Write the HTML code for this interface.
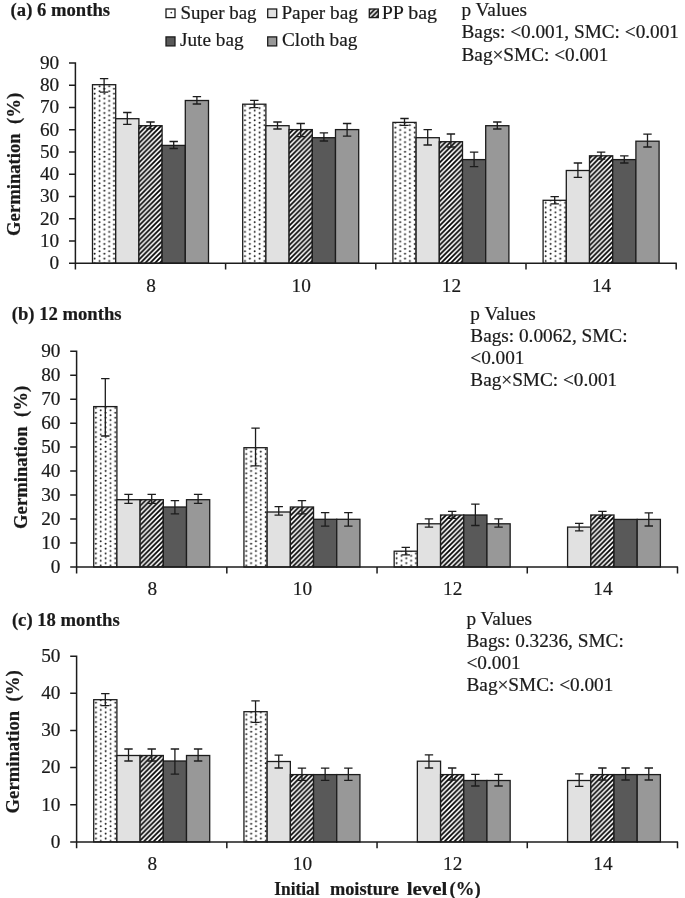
<!DOCTYPE html>
<html><head><meta charset="utf-8"><title>Germination</title>
<style>
html,body{margin:0;padding:0;background:#fff;}
body{width:685px;height:898px;overflow:hidden;}
svg{display:block;filter:blur(0.35px);}
text{font-family:"Liberation Serif",serif;font-size:19.25px;fill:#1a1a1a;stroke:#1a1a1a;stroke-width:0.2px;}
.b{font-weight:bold;font-size:18.67px;}
</style></head><body>
<svg width="685" height="898" viewBox="0 0 685 898">
<defs>
<pattern id="dots0" patternUnits="userSpaceOnUse" width="9.7" height="4.85" x="6.71" y="0.75">
<rect width="9.7" height="4.85" fill="#fff"/>
<circle cx="0.65" cy="0.65" r="0.95" fill="#1a1a1a"/>
<circle cx="5.5" cy="3.07" r="0.95" fill="#1a1a1a"/>
<circle cx="10.35" cy="0.65" r="0.95" fill="#1a1a1a"/>
<circle cx="0.65" cy="5.5" r="0.95" fill="#1a1a1a"/>
<circle cx="10.35" cy="5.5" r="0.95" fill="#1a1a1a"/>
</pattern>
<pattern id="dots1" patternUnits="userSpaceOnUse" width="9.7" height="4.85" x="7.95" y="4.65">
<rect width="9.7" height="4.85" fill="#fff"/>
<circle cx="0.65" cy="0.65" r="0.95" fill="#1a1a1a"/>
<circle cx="5.5" cy="3.07" r="0.95" fill="#1a1a1a"/>
<circle cx="10.35" cy="0.65" r="0.95" fill="#1a1a1a"/>
<circle cx="0.65" cy="5.5" r="0.95" fill="#1a1a1a"/>
<circle cx="10.35" cy="5.5" r="0.95" fill="#1a1a1a"/>
</pattern>
<pattern id="dots2" patternUnits="userSpaceOnUse" width="9.7" height="4.85" x="8.02" y="3.5">
<rect width="9.7" height="4.85" fill="#fff"/>
<circle cx="0.65" cy="0.65" r="0.95" fill="#1a1a1a"/>
<circle cx="5.5" cy="3.07" r="0.95" fill="#1a1a1a"/>
<circle cx="10.35" cy="0.65" r="0.95" fill="#1a1a1a"/>
<circle cx="0.65" cy="5.5" r="0.95" fill="#1a1a1a"/>
<circle cx="10.35" cy="5.5" r="0.95" fill="#1a1a1a"/>
</pattern>
<pattern id="hatch" patternUnits="userSpaceOnUse" width="4.85" height="4.85" x="0.88" y="0">
<rect width="4.85" height="4.85" fill="#fff"/>
<path d="M-1.2125,1.2125 L1.2125,-1.2125 M0,4.85 L4.85,0 M3.6375,6.0625 L6.0625,3.6375" stroke="#000" stroke-width="1.72"/>
</pattern>
</defs>
<rect width="685" height="898" fill="#fff"/>

<g>
<text class="b" x="10.6" y="16.4">(a) 6 months</text>
<rect x="92.5" y="84.7" width="23.2" height="178.5" fill="url(#dots0)" stroke="#1c1c1c" stroke-width="1.3"/>
<rect x="115.7" y="118.7" width="23.2" height="144.5" fill="#e1e1e1" stroke="#1c1c1c" stroke-width="1.3"/>
<rect x="138.9" y="125.7" width="23.2" height="137.5" fill="url(#hatch)" stroke="#1c1c1c" stroke-width="1.3"/>
<rect x="162.1" y="145.4" width="23.2" height="117.8" fill="#595959" stroke="#1c1c1c" stroke-width="1.3"/>
<rect x="185.3" y="100.5" width="23.2" height="162.7" fill="#989898" stroke="#1c1c1c" stroke-width="1.3"/>
<path d="M104.1,78.6 V92.2 M99.9,78.6 H108.3 M99.9,92.2 H108.3" stroke="#1c1c1c" stroke-width="1.3" fill="none"/>
<path d="M127.3,112.5 V124.4 M123.1,112.5 H131.5 M123.1,124.4 H131.5" stroke="#1c1c1c" stroke-width="1.3" fill="none"/>
<path d="M150.5,122 V128.8 M146.3,122 H154.7 M146.3,128.8 H154.7" stroke="#1c1c1c" stroke-width="1.3" fill="none"/>
<path d="M173.7,141.5 V148.5 M169.5,141.5 H177.9 M169.5,148.5 H177.9" stroke="#1c1c1c" stroke-width="1.3" fill="none"/>
<path d="M196.9,96.6 V104 M192.7,96.6 H201.1 M192.7,104 H201.1" stroke="#1c1c1c" stroke-width="1.3" fill="none"/>
<rect x="242.7" y="104.2" width="23.2" height="159" fill="url(#dots0)" stroke="#1c1c1c" stroke-width="1.3"/>
<rect x="265.9" y="125.7" width="23.2" height="137.5" fill="#e1e1e1" stroke="#1c1c1c" stroke-width="1.3"/>
<rect x="289.1" y="129.6" width="23.2" height="133.6" fill="url(#hatch)" stroke="#1c1c1c" stroke-width="1.3"/>
<rect x="312.3" y="137.7" width="23.2" height="125.5" fill="#595959" stroke="#1c1c1c" stroke-width="1.3"/>
<rect x="335.5" y="129.6" width="23.2" height="133.6" fill="#989898" stroke="#1c1c1c" stroke-width="1.3"/>
<path d="M254.3,100.3 V107.7 M250.1,100.3 H258.5 M250.1,107.7 H258.5" stroke="#1c1c1c" stroke-width="1.3" fill="none"/>
<path d="M277.5,122 V129 M273.3,122 H281.7 M273.3,129 H281.7" stroke="#1c1c1c" stroke-width="1.3" fill="none"/>
<path d="M300.7,123.5 V136.6 M296.5,123.5 H304.9 M296.5,136.6 H304.9" stroke="#1c1c1c" stroke-width="1.3" fill="none"/>
<path d="M323.9,132.9 V141 M319.7,132.9 H328.1 M319.7,141 H328.1" stroke="#1c1c1c" stroke-width="1.3" fill="none"/>
<path d="M347.1,123.5 V136.2 M342.9,123.5 H351.3 M342.9,136.2 H351.3" stroke="#1c1c1c" stroke-width="1.3" fill="none"/>
<rect x="392.9" y="122.4" width="23.2" height="140.8" fill="url(#dots0)" stroke="#1c1c1c" stroke-width="1.3"/>
<rect x="416.1" y="137.7" width="23.2" height="125.5" fill="#e1e1e1" stroke="#1c1c1c" stroke-width="1.3"/>
<rect x="439.3" y="141.7" width="23.2" height="121.5" fill="url(#hatch)" stroke="#1c1c1c" stroke-width="1.3"/>
<rect x="462.5" y="159.6" width="23.2" height="103.6" fill="#595959" stroke="#1c1c1c" stroke-width="1.3"/>
<rect x="485.7" y="125.7" width="23.2" height="137.5" fill="#989898" stroke="#1c1c1c" stroke-width="1.3"/>
<path d="M404.5,118.5 V125.3 M400.3,118.5 H408.7 M400.3,125.3 H408.7" stroke="#1c1c1c" stroke-width="1.3" fill="none"/>
<path d="M427.7,129.6 V145 M423.5,129.6 H431.9 M423.5,145 H431.9" stroke="#1c1c1c" stroke-width="1.3" fill="none"/>
<path d="M450.9,134 V147 M446.7,134 H455.1 M446.7,147 H455.1" stroke="#1c1c1c" stroke-width="1.3" fill="none"/>
<path d="M474.1,152.2 V166.6 M469.9,152.2 H478.3 M469.9,166.6 H478.3" stroke="#1c1c1c" stroke-width="1.3" fill="none"/>
<path d="M497.3,122 V129 M493.1,122 H501.5 M493.1,129 H501.5" stroke="#1c1c1c" stroke-width="1.3" fill="none"/>
<rect x="543.1" y="200.3" width="23.2" height="62.9" fill="url(#dots0)" stroke="#1c1c1c" stroke-width="1.3"/>
<rect x="566.3" y="170.5" width="23.2" height="92.7" fill="#e1e1e1" stroke="#1c1c1c" stroke-width="1.3"/>
<rect x="589.5" y="155.8" width="23.2" height="107.4" fill="url(#hatch)" stroke="#1c1c1c" stroke-width="1.3"/>
<rect x="612.7" y="159.6" width="23.2" height="103.6" fill="#595959" stroke="#1c1c1c" stroke-width="1.3"/>
<rect x="635.9" y="141.2" width="23.2" height="122" fill="#989898" stroke="#1c1c1c" stroke-width="1.3"/>
<path d="M554.7,196.6 V203.8 M550.5,196.6 H558.9 M550.5,203.8 H558.9" stroke="#1c1c1c" stroke-width="1.3" fill="none"/>
<path d="M577.9,163 V177.3 M573.7,163 H582.1 M573.7,177.3 H582.1" stroke="#1c1c1c" stroke-width="1.3" fill="none"/>
<path d="M601.1,152.1 V159.1 M596.9,152.1 H605.3 M596.9,159.1 H605.3" stroke="#1c1c1c" stroke-width="1.3" fill="none"/>
<path d="M624.3,155.8 V163 M620.1,155.8 H628.5 M620.1,163 H628.5" stroke="#1c1c1c" stroke-width="1.3" fill="none"/>
<path d="M647.5,134.2 V147 M643.3,134.2 H651.7 M643.3,147 H651.7" stroke="#1c1c1c" stroke-width="1.3" fill="none"/>
<path d="M75.4,62.35 V263.8 M69,263.2 H676.8 M69,240.95 H75.4 M69,218.7 H75.4 M69,196.45 H75.4 M69,174.2 H75.4 M69,151.95 H75.4 M69,129.7 H75.4 M69,107.45 H75.4 M69,85.2 H75.4 M69,62.95 H75.4 M75.4,263.2 V269.6 M225.6,263.2 V269.6 M375.8,263.2 V269.6 M526,263.2 V269.6 M676.2,263.2 V269.6" stroke="#1c1c1c" stroke-width="1.5" fill="none"/>
<text x="59.2" y="269" text-anchor="end">0</text>
<text x="59.2" y="246.75" text-anchor="end">10</text>
<text x="59.2" y="224.5" text-anchor="end">20</text>
<text x="59.2" y="202.25" text-anchor="end">30</text>
<text x="59.2" y="180" text-anchor="end">40</text>
<text x="59.2" y="157.75" text-anchor="end">50</text>
<text x="59.2" y="135.5" text-anchor="end">60</text>
<text x="59.2" y="113.25" text-anchor="end">70</text>
<text x="59.2" y="91" text-anchor="end">80</text>
<text x="59.2" y="68.75" text-anchor="end">90</text>
<text x="151" y="291.5" text-anchor="middle">8</text>
<text x="301.2" y="291.5" text-anchor="middle">10</text>
<text x="451.4" y="291.5" text-anchor="middle">12</text>
<text x="601.6" y="291.5" text-anchor="middle">14</text>
<text class="b" transform="translate(19.5,164.4) rotate(-90)" text-anchor="middle" xml:space="preserve">Germination  (%)</text>
</g>
<g>
<text class="b" x="11.7" y="320.3">(b) 12 months</text>
<rect x="93.71" y="406.6" width="23.2" height="160.4" fill="url(#dots1)" stroke="#1c1c1c" stroke-width="1.3"/>
<rect x="116.91" y="499.7" width="23.2" height="67.3" fill="#e1e1e1" stroke="#1c1c1c" stroke-width="1.3"/>
<rect x="140.11" y="499.7" width="23.2" height="67.3" fill="url(#hatch)" stroke="#1c1c1c" stroke-width="1.3"/>
<rect x="163.31" y="507" width="23.2" height="60" fill="#595959" stroke="#1c1c1c" stroke-width="1.3"/>
<rect x="186.51" y="499.7" width="23.2" height="67.3" fill="#989898" stroke="#1c1c1c" stroke-width="1.3"/>
<path d="M105.31,378.6 V436 M101.11,378.6 H109.51 M101.11,436 H109.51" stroke="#1c1c1c" stroke-width="1.3" fill="none"/>
<path d="M128.51,494.3 V503.4 M124.31,494.3 H132.71 M124.31,503.4 H132.71" stroke="#1c1c1c" stroke-width="1.3" fill="none"/>
<path d="M151.71,494.3 V503.4 M147.51,494.3 H155.91 M147.51,503.4 H155.91" stroke="#1c1c1c" stroke-width="1.3" fill="none"/>
<path d="M174.91,500.7 V513.9 M170.71,500.7 H179.11 M170.71,513.9 H179.11" stroke="#1c1c1c" stroke-width="1.3" fill="none"/>
<path d="M198.11,494.3 V503.4 M193.91,494.3 H202.31 M193.91,503.4 H202.31" stroke="#1c1c1c" stroke-width="1.3" fill="none"/>
<rect x="243.94" y="447.7" width="23.2" height="119.3" fill="url(#dots1)" stroke="#1c1c1c" stroke-width="1.3"/>
<rect x="267.14" y="512" width="23.2" height="55" fill="#e1e1e1" stroke="#1c1c1c" stroke-width="1.3"/>
<rect x="290.34" y="507" width="23.2" height="60" fill="url(#hatch)" stroke="#1c1c1c" stroke-width="1.3"/>
<rect x="313.54" y="519.3" width="23.2" height="47.7" fill="#595959" stroke="#1c1c1c" stroke-width="1.3"/>
<rect x="336.74" y="519.3" width="23.2" height="47.7" fill="#989898" stroke="#1c1c1c" stroke-width="1.3"/>
<path d="M255.54,428.1 V465.9 M251.34,428.1 H259.74 M251.34,465.9 H259.74" stroke="#1c1c1c" stroke-width="1.3" fill="none"/>
<path d="M278.74,506.6 V515.1 M274.54,506.6 H282.94 M274.54,515.1 H282.94" stroke="#1c1c1c" stroke-width="1.3" fill="none"/>
<path d="M301.94,500.7 V513.9 M297.74,500.7 H306.14 M297.74,513.9 H306.14" stroke="#1c1c1c" stroke-width="1.3" fill="none"/>
<path d="M325.14,512.7 V526.2 M320.94,512.7 H329.34 M320.94,526.2 H329.34" stroke="#1c1c1c" stroke-width="1.3" fill="none"/>
<path d="M348.34,512.7 V526.2 M344.14,512.7 H352.54 M344.14,526.2 H352.54" stroke="#1c1c1c" stroke-width="1.3" fill="none"/>
<rect x="394.16" y="551.2" width="23.2" height="15.8" fill="url(#dots1)" stroke="#1c1c1c" stroke-width="1.3"/>
<rect x="417.36" y="523.8" width="23.2" height="43.2" fill="#e1e1e1" stroke="#1c1c1c" stroke-width="1.3"/>
<rect x="440.56" y="515" width="23.2" height="52" fill="url(#hatch)" stroke="#1c1c1c" stroke-width="1.3"/>
<rect x="463.76" y="515" width="23.2" height="52" fill="#595959" stroke="#1c1c1c" stroke-width="1.3"/>
<rect x="486.96" y="523.8" width="23.2" height="43.2" fill="#989898" stroke="#1c1c1c" stroke-width="1.3"/>
<path d="M405.76,547.4 V554.9 M401.56,547.4 H409.96 M401.56,554.9 H409.96" stroke="#1c1c1c" stroke-width="1.3" fill="none"/>
<path d="M428.96,518.8 V527.1 M424.76,518.8 H433.16 M424.76,527.1 H433.16" stroke="#1c1c1c" stroke-width="1.3" fill="none"/>
<path d="M452.16,511.3 V518.3 M447.96,511.3 H456.36 M447.96,518.3 H456.36" stroke="#1c1c1c" stroke-width="1.3" fill="none"/>
<path d="M475.36,504.1 V525.5 M471.16,504.1 H479.56 M471.16,525.5 H479.56" stroke="#1c1c1c" stroke-width="1.3" fill="none"/>
<path d="M498.56,518.8 V527.1 M494.36,518.8 H502.76 M494.36,527.1 H502.76" stroke="#1c1c1c" stroke-width="1.3" fill="none"/>
<rect x="567.59" y="527.1" width="23.2" height="39.9" fill="#e1e1e1" stroke="#1c1c1c" stroke-width="1.3"/>
<rect x="590.79" y="515" width="23.2" height="52" fill="url(#hatch)" stroke="#1c1c1c" stroke-width="1.3"/>
<rect x="613.99" y="519.4" width="23.2" height="47.6" fill="#595959" stroke="#1c1c1c" stroke-width="1.3"/>
<rect x="637.19" y="519.4" width="23.2" height="47.6" fill="#989898" stroke="#1c1c1c" stroke-width="1.3"/>
<path d="M579.19,523.4 V530.8 M574.99,523.4 H583.39 M574.99,530.8 H583.39" stroke="#1c1c1c" stroke-width="1.3" fill="none"/>
<path d="M602.39,511.3 V518.3 M598.19,511.3 H606.59 M598.19,518.3 H606.59" stroke="#1c1c1c" stroke-width="1.3" fill="none"/>
<path d="M648.79,512.8 V526 M644.59,512.8 H652.99 M644.59,526 H652.99" stroke="#1c1c1c" stroke-width="1.3" fill="none"/>
<path d="M76.6,350.6 V567.6 M70.2,567 H678.1 M70.2,543.02 H76.6 M70.2,519.04 H76.6 M70.2,495.07 H76.6 M70.2,471.09 H76.6 M70.2,447.11 H76.6 M70.2,423.13 H76.6 M70.2,399.16 H76.6 M70.2,375.18 H76.6 M70.2,351.2 H76.6 M76.6,567 V573.4 M226.82,567 V573.4 M377.05,567 V573.4 M527.27,567 V573.4 M677.5,567 V573.4" stroke="#1c1c1c" stroke-width="1.5" fill="none"/>
<text x="60.4" y="572.8" text-anchor="end">0</text>
<text x="60.4" y="548.82" text-anchor="end">10</text>
<text x="60.4" y="524.84" text-anchor="end">20</text>
<text x="60.4" y="500.87" text-anchor="end">30</text>
<text x="60.4" y="476.89" text-anchor="end">40</text>
<text x="60.4" y="452.91" text-anchor="end">50</text>
<text x="60.4" y="428.93" text-anchor="end">60</text>
<text x="60.4" y="404.96" text-anchor="end">70</text>
<text x="60.4" y="380.98" text-anchor="end">80</text>
<text x="60.4" y="357" text-anchor="end">90</text>
<text x="152.21" y="595.3" text-anchor="middle">8</text>
<text x="302.44" y="595.3" text-anchor="middle">10</text>
<text x="452.66" y="595.3" text-anchor="middle">12</text>
<text x="602.89" y="595.3" text-anchor="middle">14</text>
<text class="b" transform="translate(26.9,457.4) rotate(-90)" text-anchor="middle" xml:space="preserve">Germination  (%)</text>
</g>
<g>
<text class="b" x="11.9" y="625.5">(c) 18 months</text>
<rect x="93.71" y="699.7" width="23.2" height="142.2" fill="url(#dots2)" stroke="#1c1c1c" stroke-width="1.3"/>
<rect x="116.91" y="755.5" width="23.2" height="86.4" fill="#e1e1e1" stroke="#1c1c1c" stroke-width="1.3"/>
<rect x="140.11" y="755.5" width="23.2" height="86.4" fill="url(#hatch)" stroke="#1c1c1c" stroke-width="1.3"/>
<rect x="163.31" y="761" width="23.2" height="80.9" fill="#595959" stroke="#1c1c1c" stroke-width="1.3"/>
<rect x="186.51" y="755.5" width="23.2" height="86.4" fill="#989898" stroke="#1c1c1c" stroke-width="1.3"/>
<path d="M105.31,693.6 V705.6 M101.11,693.6 H109.51 M101.11,705.6 H109.51" stroke="#1c1c1c" stroke-width="1.3" fill="none"/>
<path d="M128.51,749 V761 M124.31,749 H132.71 M124.31,761 H132.71" stroke="#1c1c1c" stroke-width="1.3" fill="none"/>
<path d="M151.71,749 V761 M147.51,749 H155.91 M147.51,761 H155.91" stroke="#1c1c1c" stroke-width="1.3" fill="none"/>
<path d="M174.91,749 V774.2 M170.71,749 H179.11 M170.71,774.2 H179.11" stroke="#1c1c1c" stroke-width="1.3" fill="none"/>
<path d="M198.11,749 V761 M193.91,749 H202.31 M193.91,761 H202.31" stroke="#1c1c1c" stroke-width="1.3" fill="none"/>
<rect x="243.94" y="711.7" width="23.2" height="130.2" fill="url(#dots2)" stroke="#1c1c1c" stroke-width="1.3"/>
<rect x="267.14" y="761.5" width="23.2" height="80.4" fill="#e1e1e1" stroke="#1c1c1c" stroke-width="1.3"/>
<rect x="290.34" y="774.6" width="23.2" height="67.3" fill="url(#hatch)" stroke="#1c1c1c" stroke-width="1.3"/>
<rect x="313.54" y="774.6" width="23.2" height="67.3" fill="#595959" stroke="#1c1c1c" stroke-width="1.3"/>
<rect x="336.74" y="774.6" width="23.2" height="67.3" fill="#989898" stroke="#1c1c1c" stroke-width="1.3"/>
<path d="M255.54,700.8 V722.3 M251.34,700.8 H259.74 M251.34,722.3 H259.74" stroke="#1c1c1c" stroke-width="1.3" fill="none"/>
<path d="M278.74,755.1 V768 M274.54,755.1 H282.94 M274.54,768 H282.94" stroke="#1c1c1c" stroke-width="1.3" fill="none"/>
<path d="M301.94,768.2 V780.3 M297.74,768.2 H306.14 M297.74,780.3 H306.14" stroke="#1c1c1c" stroke-width="1.3" fill="none"/>
<path d="M325.14,768.2 V780.3 M320.94,768.2 H329.34 M320.94,780.3 H329.34" stroke="#1c1c1c" stroke-width="1.3" fill="none"/>
<path d="M348.34,768.2 V780.3 M344.14,768.2 H352.54 M344.14,780.3 H352.54" stroke="#1c1c1c" stroke-width="1.3" fill="none"/>
<rect x="417.36" y="761.2" width="23.2" height="80.7" fill="#e1e1e1" stroke="#1c1c1c" stroke-width="1.3"/>
<rect x="440.56" y="774.6" width="23.2" height="67.3" fill="url(#hatch)" stroke="#1c1c1c" stroke-width="1.3"/>
<rect x="463.76" y="780.5" width="23.2" height="61.4" fill="#595959" stroke="#1c1c1c" stroke-width="1.3"/>
<rect x="486.96" y="780.5" width="23.2" height="61.4" fill="#989898" stroke="#1c1c1c" stroke-width="1.3"/>
<path d="M428.96,754.9 V768 M424.76,754.9 H433.16 M424.76,768 H433.16" stroke="#1c1c1c" stroke-width="1.3" fill="none"/>
<path d="M452.16,768 V780 M447.96,768 H456.36 M447.96,780 H456.36" stroke="#1c1c1c" stroke-width="1.3" fill="none"/>
<path d="M475.36,774.4 V786 M471.16,774.4 H479.56 M471.16,786 H479.56" stroke="#1c1c1c" stroke-width="1.3" fill="none"/>
<path d="M498.56,774.4 V786 M494.36,774.4 H502.76 M494.36,786 H502.76" stroke="#1c1c1c" stroke-width="1.3" fill="none"/>
<rect x="567.59" y="780.5" width="23.2" height="61.4" fill="#e1e1e1" stroke="#1c1c1c" stroke-width="1.3"/>
<rect x="590.79" y="774.6" width="23.2" height="67.3" fill="url(#hatch)" stroke="#1c1c1c" stroke-width="1.3"/>
<rect x="613.99" y="774.6" width="23.2" height="67.3" fill="#595959" stroke="#1c1c1c" stroke-width="1.3"/>
<rect x="637.19" y="774.6" width="23.2" height="67.3" fill="#989898" stroke="#1c1c1c" stroke-width="1.3"/>
<path d="M579.19,773.9 V786.4 M574.99,773.9 H583.39 M574.99,786.4 H583.39" stroke="#1c1c1c" stroke-width="1.3" fill="none"/>
<path d="M602.39,768 V780 M598.19,768 H606.59 M598.19,780 H606.59" stroke="#1c1c1c" stroke-width="1.3" fill="none"/>
<path d="M625.59,768 V780 M621.39,768 H629.79 M621.39,780 H629.79" stroke="#1c1c1c" stroke-width="1.3" fill="none"/>
<path d="M648.79,768 V780 M644.59,768 H652.99 M644.59,780 H652.99" stroke="#1c1c1c" stroke-width="1.3" fill="none"/>
<path d="M76.6,655.6 V842.5 M70.2,841.9 H678.1 M70.2,804.76 H76.6 M70.2,767.62 H76.6 M70.2,730.48 H76.6 M70.2,693.34 H76.6 M70.2,656.2 H76.6 M76.6,841.9 V848.3 M226.82,841.9 V848.3 M377.05,841.9 V848.3 M527.27,841.9 V848.3 M677.5,841.9 V848.3" stroke="#1c1c1c" stroke-width="1.5" fill="none"/>
<text x="60.4" y="847.7" text-anchor="end">0</text>
<text x="60.4" y="810.56" text-anchor="end">10</text>
<text x="60.4" y="773.42" text-anchor="end">20</text>
<text x="60.4" y="736.28" text-anchor="end">30</text>
<text x="60.4" y="699.14" text-anchor="end">40</text>
<text x="60.4" y="662" text-anchor="end">50</text>
<text x="152.21" y="870.2" text-anchor="middle">8</text>
<text x="302.44" y="870.2" text-anchor="middle">10</text>
<text x="452.66" y="870.2" text-anchor="middle">12</text>
<text x="602.89" y="870.2" text-anchor="middle">14</text>
<text class="b" transform="translate(18.6,741.9) rotate(-90)" text-anchor="middle" xml:space="preserve">Germination  (%)</text>
</g>
<g>
<rect x="166" y="9" width="9" height="8.6" fill="#fff" stroke="#1c1c1c" stroke-width="1.3"/>
<circle cx="171.3" cy="12.6" r="0.9" fill="#2a2a2a"/>
<text x="180.4" y="19.2" textLength="76.2" lengthAdjust="spacingAndGlyphs">Super bag</text>
<rect x="267.7" y="9" width="9" height="8.6" fill="#e1e1e1" stroke="#1c1c1c" stroke-width="1.3"/>
<text x="281.4" y="19.2">Paper bag</text>
<rect x="369.3" y="9" width="9" height="8.6" fill="url(#hatch)" stroke="#1c1c1c" stroke-width="1.3"/>
<text x="381.7" y="19.2" textLength="55.4" lengthAdjust="spacingAndGlyphs">PP bag</text>
<rect x="166" y="36.9" width="9" height="9" fill="#595959" stroke="#1c1c1c" stroke-width="1.3"/>
<text x="180" y="46.3">Jute bag</text>
<rect x="267.7" y="36.9" width="9" height="9" fill="#989898" stroke="#1c1c1c" stroke-width="1.3"/>
<text x="282.0" y="46.3">Cloth bag</text>
</g>
<g xml:space="preserve">
<text x="461.5" y="16">p Values</text>
<text x="461.5" y="38.1">Bags: &lt;0.001, SMC: &lt;0.001</text>
<text x="461.5" y="60.5">Bag×SMC: &lt;0.001</text>
<text x="470.3" y="319.8">p Values</text>
<text x="470.3" y="341.7">Bags:  0.0062, SMC:</text>
<text x="470.3" y="364.3">&lt;0.001</text>
<text x="470.3" y="386.1">Bag×SMC: &lt;0.001</text>
<text x="466.5" y="624.8">p Values</text>
<text x="466.5" y="646.7">Bags:  0.3236, SMC:</text>
<text x="466.5" y="669.4">&lt;0.001</text>
<text x="466.5" y="691.1">Bag×SMC: &lt;0.001</text>
</g>
<g class="b">
<text class="b" x="274.3" y="895.1" textLength="45.3" lengthAdjust="spacingAndGlyphs">Initial</text>
<text class="b" x="329.9" y="895.1" textLength="68.9" lengthAdjust="spacingAndGlyphs">moisture</text>
<text class="b" x="406.8" y="895.1" textLength="40.6" lengthAdjust="spacingAndGlyphs">level</text>
<text class="b" x="449.6" y="895.1">(%)</text>
</g>
</svg></body></html>
